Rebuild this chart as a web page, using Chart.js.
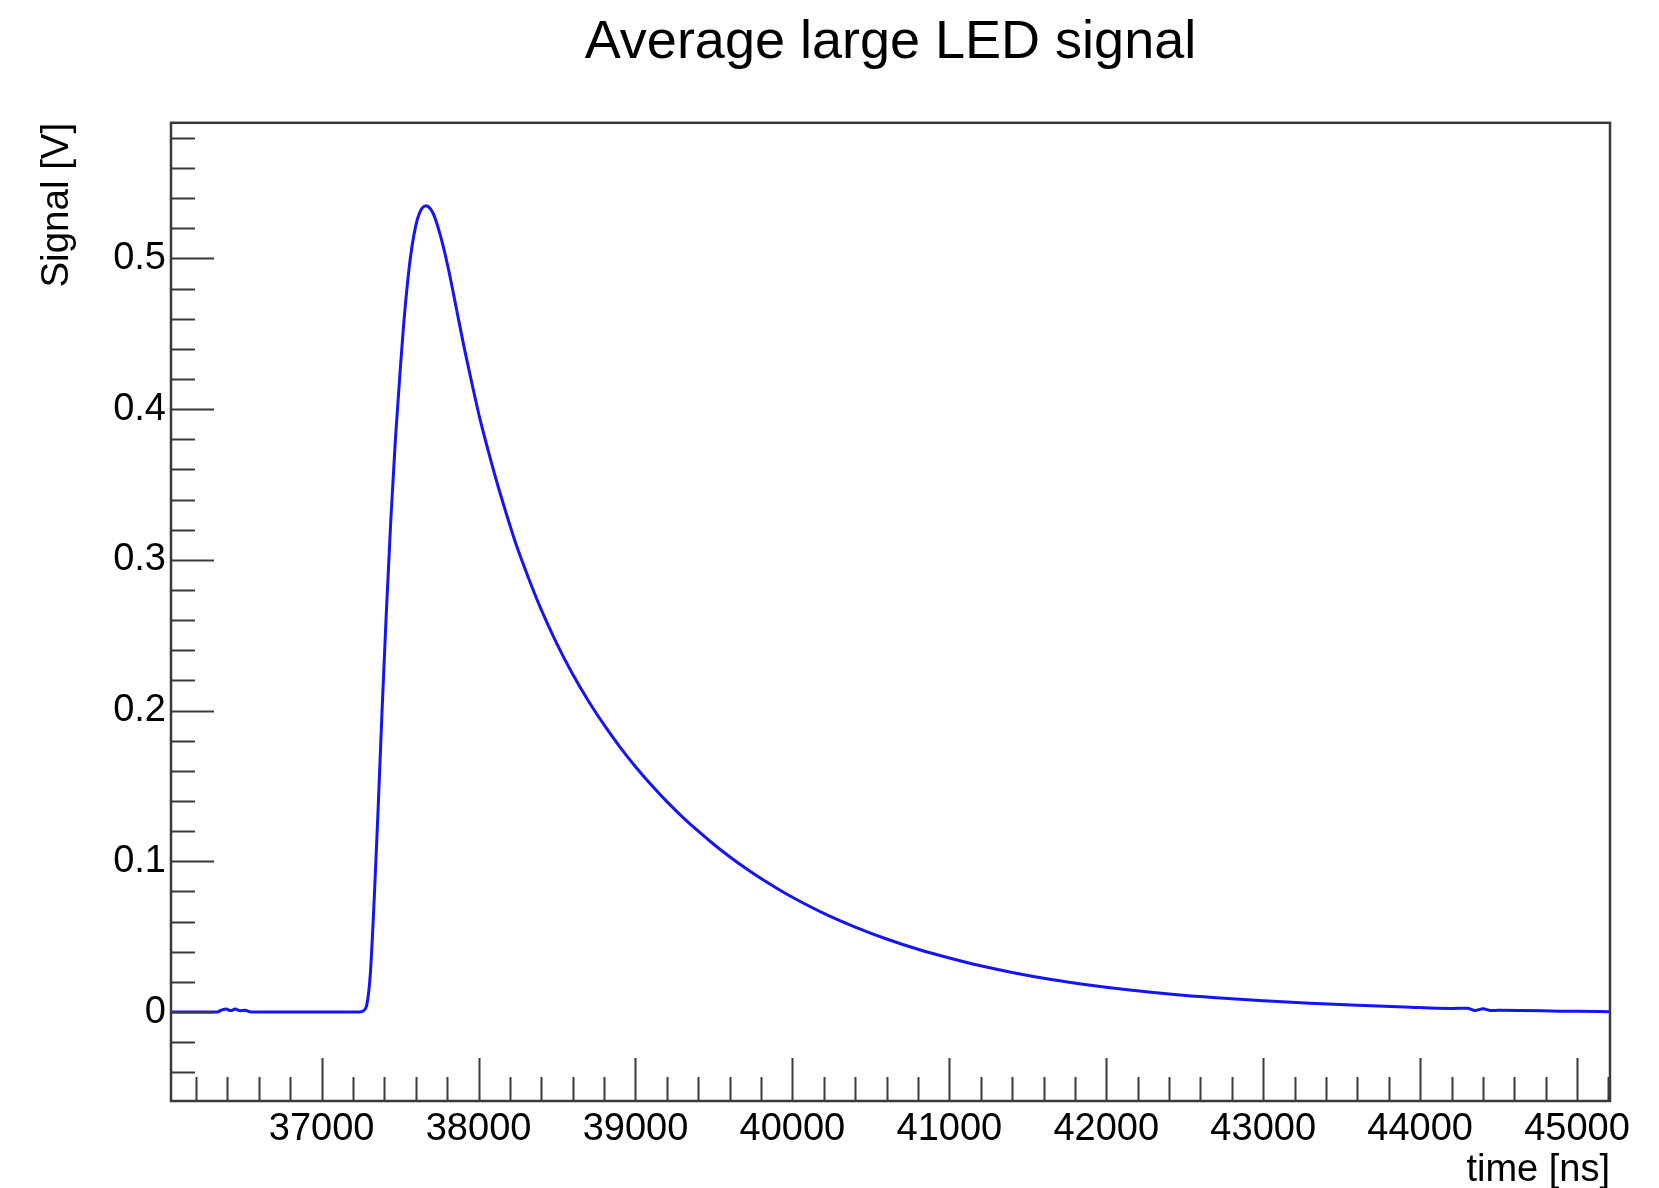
<!DOCTYPE html>
<html>
<head>
<meta charset="utf-8">
<script src="https://cdn.jsdelivr.net/npm/chart.js@4/dist/chart.umd.min.js"></script>
<style>
  html, body { margin: 0; padding: 0; background: #ffffff; }
  #wrap { width: 1659px; height: 1188px; position: relative; }
</style>
</head>
<body>
<div id="wrap"><canvas id="c"></canvas></div>
<script>
// ---- data ----
const chartTitle = "Average large LED signal";
const xTitle = "time [ns]";
const yTitle = "Signal [V]";

const timeNs = [
  36040, 36200, 36330, 36360, 36390, 36420, 36450, 36480, 36510, 36550,
  36800, 37000, 37200, 37240, 37268, 37290, 37310, 37335, 37360, 37385,
  37410, 37440, 37470, 37500, 37530, 37565, 37610, 37664, 37710, 37760,
  37810, 37860, 37910, 37960, 38010, 38060, 38110, 38170, 38240, 38320,
  38400, 38500, 38600, 38700, 38800, 38900, 39000, 39100, 39200, 39300,
  39400, 39500, 39600, 39700, 39800, 39900, 40000, 40200, 40400, 40600,
  40800, 41000, 41200, 41400, 41650, 41900, 42150, 42400, 42700, 43000,
  43300, 43600, 43900, 44200, 44300, 44350, 44400, 44450, 44500, 45000,
  45210
];
const signalV = [
  0, 0, 0, 0.0012, 0.0020, 0.0010, 0.0020, 0.0008, 0.0012, 0,
  0, 0, 0, 0, 0.001, 0.006, 0.025, 0.075, 0.135, 0.200,
  0.260, 0.325, 0.380, 0.425, 0.465, 0.500, 0.526, 0.535, 0.530, 0.514,
  0.492, 0.466, 0.440, 0.416, 0.393, 0.373, 0.354, 0.333, 0.310, 0.2875,
  0.2668, 0.2441, 0.2241, 0.2064, 0.1905, 0.1760, 0.1628, 0.1508, 0.1396, 0.1294,
  0.1200, 0.1112, 0.1031, 0.0956, 0.0886, 0.0822, 0.0762, 0.0655, 0.0564, 0.0485,
  0.0417, 0.0359, 0.0307, 0.0263, 0.0216, 0.0178, 0.0146, 0.0120, 0.0095, 0.0075,
  0.0058, 0.0045, 0.0034, 0.0024, 0.0026, 0.0010, 0.0022, 0.0010, 0.0012, 0.0005,
  0.0002
];

const xRange = [36040, 45210];
const yRange = [-0.059, 0.59];
const xMajorTicks = [37000, 38000, 39000, 40000, 41000, 42000, 43000, 44000, 45000];
const xMinorTicks = [36200, 36400, 36600, 36800, 37200, 37400, 37600, 37800, 38200, 38400, 38600, 38800,
  39200, 39400, 39600, 39800, 40200, 40400, 40600, 40800, 41200, 41400, 41600, 41800,
  42200, 42400, 42600, 42800, 43200, 43400, 43600, 43800, 44200, 44400, 44600, 44800, 45200];
const yMajorTicks = [0, 0.1, 0.2, 0.3, 0.4, 0.5];
const yMinorTicks = [-0.04, -0.02, 0.02, 0.04, 0.06, 0.08, 0.12, 0.14, 0.16, 0.18, 0.22, 0.24, 0.26, 0.28,
  0.32, 0.34, 0.36, 0.38, 0.42, 0.44, 0.46, 0.48, 0.52, 0.54, 0.56, 0.58];

// ---- drawing ----
const points = timeNs.map((t, i) => ({ x: t, y: signalV[i] }));

const frameColor = '#3a3a3a';
const rootFrame = {
  id: 'rootFrame',
  afterDatasetsDraw(chart) {
    const { ctx, chartArea: a, scales } = chart;
    const xs = scales.x, ys = scales.y;
    ctx.save();
    ctx.strokeStyle = frameColor;
    ctx.lineWidth = 2;
    ctx.beginPath();
    const major = 43, minor = 24;
    xMajorTicks.forEach(v => { const p = Math.round(xs.getPixelForValue(v)) + 0.5; ctx.moveTo(p, a.bottom); ctx.lineTo(p, a.bottom - major); });
    xMinorTicks.forEach(v => { const p = Math.round(xs.getPixelForValue(v)) + 0.5; ctx.moveTo(p, a.bottom); ctx.lineTo(p, a.bottom - minor); });
    yMajorTicks.forEach(v => { const p = Math.round(ys.getPixelForValue(v)) + 0.5; ctx.moveTo(a.left, p); ctx.lineTo(a.left + major, p); });
    yMinorTicks.forEach(v => { const p = Math.round(ys.getPixelForValue(v)) + 0.5; ctx.moveTo(a.left, p); ctx.lineTo(a.left + minor, p); });
    ctx.stroke();
    ctx.lineWidth = 2.5;
    ctx.strokeRect(a.left, a.top, a.right - a.left, a.bottom - a.top);
    ctx.restore();
  }
};

new Chart(document.getElementById('c'), {
  type: 'scatter',
  data: {
    datasets: [{
      data: points,
      showLine: true,
      borderColor: 'rgb(20,20,245)',
      borderWidth: 3,
      pointRadius: 0,
      pointHoverRadius: 0,
      cubicInterpolationMode: 'monotone',
      fill: false
    }]
  },
  options: {
    responsive: true,
    maintainAspectRatio: false,
    devicePixelRatio: 1,
    animation: false,
    layout: { padding: { left: 0, right: 49, top: 0, bottom: 0 } },
    plugins: {
      legend: { display: false },
      tooltip: { enabled: false },
      title: {
        display: true,
        text: chartTitle,
        fullSize: false,
        color: '#000',
        font: { family: 'Liberation Sans, Arial, Helvetica, sans-serif', size: 54, weight: 'normal', lineHeight: 1.2 },
        padding: { top: 11, bottom: 47 }
      }
    },
    scales: {
      x: {
        type: 'linear',
        min: xRange[0],
        max: xRange[1],
        afterBuildTicks: s => { s.ticks = xMajorTicks.map(v => ({ value: v })); },
        afterFit: s => { s.height = 87; },
        grid: { display: false, drawTicks: false },
        border: { display: false },
        ticks: {
          autoSkip: false, maxRotation: 0, minRotation: 0, padding: 10,
          color: '#000',
          font: { family: 'Liberation Sans, Arial, sans-serif', size: 38, lineHeight: 1 },
          callback: v => String(v)
        },
        title: {
          display: true, text: xTitle, align: 'end', color: '#000',
          font: { family: 'Liberation Sans, Arial, sans-serif', size: 38, lineHeight: 0.9 },
          padding: { top: 0, bottom: 0 }
        }
      },
      y: {
        type: 'linear',
        min: yRange[0],
        max: yRange[1],
        afterBuildTicks: s => { s.ticks = yMajorTicks.map(v => ({ value: v })); },
        afterFit: s => { s.width = 171; },
        grid: { display: false, drawTicks: false },
        border: { display: false },
        ticks: {
          autoSkip: false, padding: 5, color: '#000',
          font: { family: 'Liberation Sans, Arial, sans-serif', size: 38, lineHeight: 1 },
          callback: v => String(Math.round(v * 10) / 10)
        },
        title: {
          display: true, text: yTitle, align: 'end', color: '#000',
          font: { family: 'Liberation Sans, Arial, sans-serif', size: 38.5, lineHeight: 1 },
          padding: { top: 38, bottom: 0 }
        }
      }
    }
  },
  plugins: [rootFrame]
});
</script>
</body>
</html>
